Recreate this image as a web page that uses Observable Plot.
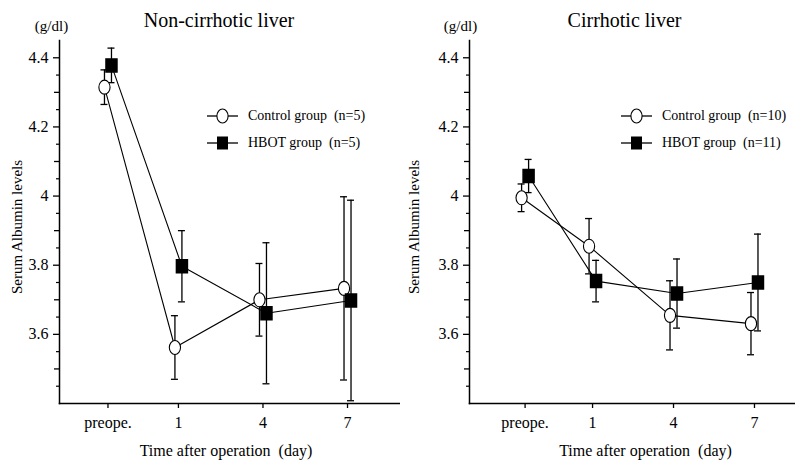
<!DOCTYPE html>
<html><head><meta charset="utf-8">
<script src="https://cdn.jsdelivr.net/npm/d3@7"></script>
<script src="https://cdn.jsdelivr.net/npm/@observablehq/plot@0.6"></script>
<style>
body{margin:0;background:#fff;font-family:"Liberation Serif","Times New Roman",serif;}
#wrap{position:relative;width:795px;height:460px;display:flex;overflow:hidden;}
svg text{font-family:"Liberation Serif","Times New Roman",serif !important;}
.legend{position:absolute;font-family:"Liberation Serif","Times New Roman",serif !important;font-size:14px;color:#000;}
.legend div{display:flex;align-items:center;height:27px;white-space:pre;}
.legend svg{margin-right:10px;}
</style></head><body><div id="wrap"></div>
<script>
// Data
const days = ["preope.", "1", "4", "7"];
const dayValue = [-1.5, 1, 4, 7];
const yTicks = [3.6, 3.8, 4, 4.2, 4.4];

const nonCirControlMean = [4.315, 3.562, 3.700, 3.733];
const nonCirControlSD   = [0.050, 0.092, 0.105, 0.265];
const nonCirHbotMean    = [4.378, 3.797, 3.661, 3.698];
const nonCirHbotSD      = [0.050, 0.103, 0.204, 0.290];

const cirControlMean = [3.995, 3.855, 3.655, 3.631];
const cirControlSD   = [0.040, 0.080, 0.100, 0.090];
const cirHbotMean    = [4.058, 3.754, 3.718, 3.750];
const cirHbotSD      = [0.048, 0.060, 0.100, 0.140];

const FONT = "Liberation Serif, Times New Roman, serif";

const ellipse = {draw(ctx){const rx=5.6, ry=7, k=0.5523;
  ctx.moveTo(rx,0);
  ctx.bezierCurveTo(rx, k*ry, k*rx, ry, 0, ry);
  ctx.bezierCurveTo(-k*rx, ry, -rx, k*ry, -rx, 0);
  ctx.bezierCurveTo(-rx, -k*ry, -k*rx, -ry, 0, -ry);
  ctx.bezierCurveTo(k*rx, -ry, rx, -k*ry, rx, 0);
  ctx.closePath();}};
const rectSym = {draw(ctx){ctx.rect(-5.5,-6.5,11,13);}};

function rowsFor(mean, sd){
  return days.map((d,i)=>({day: dayValue[i], mean: mean[i], lo: mean[i]-sd[i], hi: mean[i]+sd[i]}));
}

function panel(o){
  const ctrl = rowsFor(o.cm, o.cs), hb = rowsFor(o.hm, o.hs);
  const groupMarks = (rows, dx) => [
    Plot.ruleX(rows, {x:"day", y1:"lo", y2:"hi", dx, stroke:"black", strokeWidth:1.3}),
    Plot.ruleY(rows, {y:"hi", x1:"day", x2:"day", dx, insetLeft:-3.5, insetRight:-3.5, stroke:"black", strokeWidth:1.3}),
    Plot.ruleY(rows, {y:"lo", x1:"day", x2:"day", dx, insetLeft:-3.5, insetRight:-3.5, stroke:"black", strokeWidth:1.3}),
    Plot.line(rows, {x:"day", y:"mean", dx, stroke:"black", strokeWidth:1.1})
  ];
  return Plot.plot({
    width: o.width, height: 460,
    marginLeft: o.ml, marginRight: 0, marginTop: 40, marginBottom: 57,
    style: {fontFamily: FONT, fontSize:"16px", color:"black", background:"white"},
    x: {type:"linear", domain:o.xd},
    y: {domain:[3.4, 4.45]},
    marks: [
      Plot.axisY({ticks: yTicks, tickSize:6, tickPadding:5, tickFormat: d => d===4 ? "4" : d.toFixed(1), label:null, strokeWidth:1.3, fontFamily:FONT, fontSize:16}),
      Plot.axisY({ticks: [3.5,3.7,3.9,4.1,4.3], tickSize:5, tickFormat: () => "", label:null, strokeWidth:1.3}),
      Plot.axisY({ticks: [3.45,3.55,3.65,3.75,3.85,3.95,4.05,4.15,4.25,4.35], tickSize:3, tickFormat: () => "", label:null, strokeWidth:1.2}),
      Plot.axisX({ticks: dayValue, tickSize:5, tickPadding:8, tickFormat: d => days[dayValue.indexOf(d)], label:null, strokeWidth:1.3, fontFamily:FONT, fontSize:16}),
      Plot.frame({anchor:"left", stroke:"black", strokeWidth:1.5}),
      Plot.frame({anchor:"bottom", stroke:"black", strokeWidth:1.5}),
      ...groupMarks(ctrl, -3.5),
      ...groupMarks(hb, 3.5),
      Plot.dot(ctrl, {x:"day", y:"mean", dx:-3.5, symbol: ellipse, fill:"white", stroke:"black", strokeWidth:1.1}),
      Plot.dot(hb, {x:"day", y:"mean", dx:3.5, symbol: rectSym, fill:"black", stroke:"black"}),
      Plot.text([o.title], {frameAnchor:"top", lineAnchor:"middle", dy:-20, dx:o.tdx, fontSize:20, fontFamily:FONT}),
      Plot.text(["(g/dl)"], {frameAnchor:"top-left", lineAnchor:"middle", textAnchor:"middle", dy:-14, dx:o.gdx, fontSize:15, fontFamily:FONT}),
      Plot.text(["Serum Albumin levels"], {frameAnchor:"left", textAnchor:"middle", lineAnchor:"middle", rotate:-90, dx:o.ldx, dy:5, fontSize:15, fontFamily:FONT}),
      Plot.text(["Time after operation\u00a0\u00a0(day)"], {frameAnchor:"bottom", lineAnchor:"middle", dy:47, dx:o.xdx, fontSize:16, fontFamily:FONT})
    ]
  });
}

const wrap = document.getElementById("wrap");
wrap.append(panel({title:"Non-cirrhotic liver", cm:nonCirControlMean, cs:nonCirControlSD, hm:nonCirHbotMean, hs:nonCirHbotSD,
  width:400, ml:59, xd:[-3.22, 8.88], tdx:-11, gdx:-8, ldx:-42, xdx:-4}));
wrap.append(panel({title:"Cirrhotic liver", cm:cirControlMean, cs:cirControlSD, hm:cirHbotMean, hs:cirHbotSD,
  width:395, ml:69, xd:[-3.56, 8.52], tdx:-8, gdx:-9, ldx:-55, xdx:13}));

function legend(left, top, labels){
  const d = document.createElement("div");
  d.className = "legend";
  d.style.left = left + "px"; d.style.top = top + "px";
  const sym = [
    '<svg width="31" height="16"><line x1="0" y1="8" x2="31" y2="8" stroke="black" stroke-width="1.3"/><ellipse cx="15.5" cy="8" rx="5.6" ry="7" fill="white" stroke="black" stroke-width="1.1"/></svg>',
    '<svg width="31" height="16"><line x1="0" y1="8" x2="31" y2="8" stroke="black" stroke-width="1.3"/><rect x="10" y="1.5" width="11" height="13" fill="black"/></svg>'
  ];
  d.innerHTML = labels.map((t,i)=>`<div>${sym[i]}<span>${t}</span></div>`).join("");
  wrap.append(d);
}
legend(207, 102, ["Control group  (n=5)", "HBOT group  (n=5)"]);
legend(621, 102, ["Control group  (n=10)", "HBOT group  (n=11)"]);
</script></body></html>
